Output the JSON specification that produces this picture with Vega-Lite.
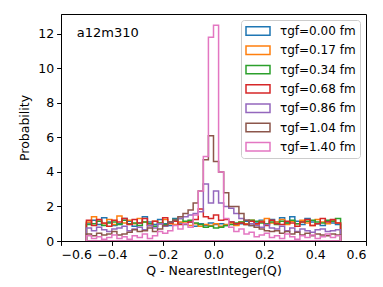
{
  "$schema": "https://vega.github.io/schema/vega-lite/v6.json",
  "width": 305,
  "height": 227,
  "autosize": "none",
  "padding": {"left": 61, "top": 14, "right": 17, "bottom": 46},
  "config": {
    "font": "DejaVu Sans",
    "view": {"stroke": "black", "strokeWidth": 1},
    "axis": {
      "grid": false,
      "domainColor": "black",
      "tickColor": "black",
      "labelColor": "black",
      "titleColor": "black",
      "tickSize": 4.4,
      "tickWidth": 1,
      "labelPadding": 3,
      "labelFontSize": 12.5,
      "titleFontSize": 12.5,
      "titleFontWeight": "normal",
      "labelOverlap": false,
      "zindex": 1
    }
  },
  "encoding": {
    "x": {"field": "x", "type": "quantitative",
      "scale": {"domain": [-0.6, 0.6], "nice": false, "zero": false},
      "axis": {"title": "Q - NearestInteger(Q)", "values": [-0.6, -0.4, -0.2, 0, 0.2, 0.4, 0.6],
        "labelExpr": "replace(format(datum.value, '.1f'), '-', '−')", "titlePadding": 4}},
    "y": {"field": "p", "type": "quantitative", "stack": null,
      "scale": {"domain": [0, 13.15], "nice": false},
      "axis": {"title": "Probability", "values": [0, 2, 4, 6, 8, 10, 12], "format": "d", "titlePadding": 6}}
  },
  "layer": [
    {
      "data": {"values": [
{"s":"0.00","x":-0.5,"p":1.05},{"s":"0.00","x":-0.48,"p":1.2},{"s":"0.00","x":-0.46,"p":0.95},{"s":"0.00","x":-0.44,"p":1.35},{"s":"0.00","x":-0.42,"p":1.1},{"s":"0.00","x":-0.4,"p":0.9},{"s":"0.00","x":-0.38,"p":1.0},{"s":"0.00","x":-0.36,"p":1.3},{"s":"0.00","x":-0.34,"p":1.15},{"s":"0.00","x":-0.32,"p":0.85},
{"s":"0.00","x":-0.3,"p":1.05},{"s":"0.00","x":-0.28,"p":1.4},{"s":"0.00","x":-0.26,"p":1.1},{"s":"0.00","x":-0.24,"p":0.95},{"s":"0.00","x":-0.22,"p":1.25},{"s":"0.00","x":-0.2,"p":1.0},{"s":"0.00","x":-0.18,"p":0.9},{"s":"0.00","x":-0.16,"p":1.3},{"s":"0.00","x":-0.14,"p":1.05},{"s":"0.00","x":-0.12,"p":0.95},
{"s":"0.00","x":-0.1,"p":1.1},{"s":"0.00","x":-0.08,"p":0.85},{"s":"0.00","x":-0.06,"p":1.0},{"s":"0.00","x":-0.04,"p":0.9},{"s":"0.00","x":-0.02,"p":1.05},{"s":"0.00","x":0,"p":0.95},{"s":"0.00","x":0.02,"p":1.0},{"s":"0.00","x":0.04,"p":0.9},{"s":"0.00","x":0.06,"p":1.1},{"s":"0.00","x":0.08,"p":0.95},
{"s":"0.00","x":0.1,"p":1.0},{"s":"0.00","x":0.12,"p":1.15},{"s":"0.00","x":0.14,"p":0.9},{"s":"0.00","x":0.16,"p":1.05},{"s":"0.00","x":0.18,"p":1.2},{"s":"0.00","x":0.2,"p":1.0},{"s":"0.00","x":0.22,"p":1.25},{"s":"0.00","x":0.24,"p":1.1},{"s":"0.00","x":0.26,"p":1.35},{"s":"0.00","x":0.28,"p":1.05},
{"s":"0.00","x":0.3,"p":1.4},{"s":"0.00","x":0.32,"p":1.15},{"s":"0.00","x":0.34,"p":0.95},{"s":"0.00","x":0.36,"p":1.3},{"s":"0.00","x":0.38,"p":1.1},{"s":"0.00","x":0.4,"p":1.0},{"s":"0.00","x":0.42,"p":0.9},{"s":"0.00","x":0.44,"p":1.15},{"s":"0.00","x":0.46,"p":1.05},{"s":"0.00","x":0.48,"p":0.95},{"s":"0.00","x":0.5,"p":0.95},

{"s":"0.17","x":-0.5,"p":1.1},{"s":"0.17","x":-0.48,"p":1.4},{"s":"0.17","x":-0.46,"p":1.15},{"s":"0.17","x":-0.44,"p":1.0},{"s":"0.17","x":-0.42,"p":1.25},{"s":"0.17","x":-0.4,"p":0.95},{"s":"0.17","x":-0.38,"p":1.45},{"s":"0.17","x":-0.36,"p":1.05},{"s":"0.17","x":-0.34,"p":1.2},{"s":"0.17","x":-0.32,"p":1.0},
{"s":"0.17","x":-0.3,"p":1.3},{"s":"0.17","x":-0.28,"p":1.1},{"s":"0.17","x":-0.26,"p":0.9},{"s":"0.17","x":-0.24,"p":1.15},{"s":"0.17","x":-0.22,"p":1.05},{"s":"0.17","x":-0.2,"p":1.25},{"s":"0.17","x":-0.18,"p":1.0},{"s":"0.17","x":-0.16,"p":0.95},{"s":"0.17","x":-0.14,"p":1.1},{"s":"0.17","x":-0.12,"p":1.05},
{"s":"0.17","x":-0.1,"p":0.9},{"s":"0.17","x":-0.08,"p":1.0},{"s":"0.17","x":-0.06,"p":0.85},{"s":"0.17","x":-0.04,"p":0.95},{"s":"0.17","x":-0.02,"p":0.9},{"s":"0.17","x":0,"p":1.0},{"s":"0.17","x":0.02,"p":0.85},{"s":"0.17","x":0.04,"p":0.95},{"s":"0.17","x":0.06,"p":1.05},{"s":"0.17","x":0.08,"p":0.9},
{"s":"0.17","x":0.1,"p":1.1},{"s":"0.17","x":0.12,"p":1.0},{"s":"0.17","x":0.14,"p":1.2},{"s":"0.17","x":0.16,"p":0.95},{"s":"0.17","x":0.18,"p":1.15},{"s":"0.17","x":0.2,"p":1.3},{"s":"0.17","x":0.22,"p":1.05},{"s":"0.17","x":0.24,"p":1.1},{"s":"0.17","x":0.26,"p":1.25},{"s":"0.17","x":0.28,"p":0.95},
{"s":"0.17","x":0.3,"p":1.15},{"s":"0.17","x":0.32,"p":1.0},{"s":"0.17","x":0.34,"p":1.2},{"s":"0.17","x":0.36,"p":1.05},{"s":"0.17","x":0.38,"p":0.9},{"s":"0.17","x":0.4,"p":1.25},{"s":"0.17","x":0.42,"p":1.1},{"s":"0.17","x":0.44,"p":1.0},{"s":"0.17","x":0.46,"p":1.2},{"s":"0.17","x":0.48,"p":1.05},{"s":"0.17","x":0.5,"p":1.05},

{"s":"0.34","x":-0.5,"p":0.95},{"s":"0.34","x":-0.48,"p":1.0},{"s":"0.34","x":-0.46,"p":1.15},{"s":"0.34","x":-0.44,"p":0.9},{"s":"0.34","x":-0.42,"p":1.05},{"s":"0.34","x":-0.4,"p":1.1},{"s":"0.34","x":-0.38,"p":0.95},{"s":"0.34","x":-0.36,"p":1.2},{"s":"0.34","x":-0.34,"p":1.0},{"s":"0.34","x":-0.32,"p":1.05},
{"s":"0.34","x":-0.3,"p":0.9},{"s":"0.34","x":-0.28,"p":1.1},{"s":"0.34","x":-0.26,"p":1.0},{"s":"0.34","x":-0.24,"p":0.85},{"s":"0.34","x":-0.22,"p":1.05},{"s":"0.34","x":-0.2,"p":0.95},{"s":"0.34","x":-0.18,"p":1.1},{"s":"0.34","x":-0.16,"p":1.25},{"s":"0.34","x":-0.14,"p":1.3},{"s":"0.34","x":-0.12,"p":1.15},
{"s":"0.34","x":-0.1,"p":1.2},{"s":"0.34","x":-0.08,"p":1.05},{"s":"0.34","x":-0.06,"p":0.95},{"s":"0.34","x":-0.04,"p":0.8},{"s":"0.34","x":-0.02,"p":0.85},{"s":"0.34","x":0,"p":0.75},{"s":"0.34","x":0.02,"p":0.8},{"s":"0.34","x":0.04,"p":0.9},{"s":"0.34","x":0.06,"p":0.95},{"s":"0.34","x":0.08,"p":1.05},
{"s":"0.34","x":0.1,"p":1.1},{"s":"0.34","x":0.12,"p":0.95},{"s":"0.34","x":0.14,"p":1.2},{"s":"0.34","x":0.16,"p":1.15},{"s":"0.34","x":0.18,"p":1.05},{"s":"0.34","x":0.2,"p":1.0},{"s":"0.34","x":0.22,"p":1.1},{"s":"0.34","x":0.24,"p":0.95},{"s":"0.34","x":0.26,"p":1.15},{"s":"0.34","x":0.28,"p":1.05},
{"s":"0.34","x":0.3,"p":1.2},{"s":"0.34","x":0.32,"p":1.0},{"s":"0.34","x":0.34,"p":1.1},{"s":"0.34","x":0.36,"p":1.15},{"s":"0.34","x":0.38,"p":1.2},{"s":"0.34","x":0.4,"p":1.1},{"s":"0.34","x":0.42,"p":1.05},{"s":"0.34","x":0.44,"p":1.2},{"s":"0.34","x":0.46,"p":1.15},{"s":"0.34","x":0.48,"p":1.3},{"s":"0.34","x":0.5,"p":1.3},

{"s":"0.68","x":-0.5,"p":1.2},{"s":"0.68","x":-0.48,"p":0.9},{"s":"0.68","x":-0.46,"p":1.25},{"s":"0.68","x":-0.44,"p":1.05},{"s":"0.68","x":-0.42,"p":0.85},{"s":"0.68","x":-0.4,"p":1.2},{"s":"0.68","x":-0.38,"p":1.1},{"s":"0.68","x":-0.36,"p":1.3},{"s":"0.68","x":-0.34,"p":0.95},{"s":"0.68","x":-0.32,"p":1.25},
{"s":"0.68","x":-0.3,"p":1.05},{"s":"0.68","x":-0.28,"p":1.3},{"s":"0.68","x":-0.26,"p":0.9},{"s":"0.68","x":-0.24,"p":1.15},{"s":"0.68","x":-0.22,"p":1.0},{"s":"0.68","x":-0.2,"p":1.35},{"s":"0.68","x":-0.18,"p":1.05},{"s":"0.68","x":-0.16,"p":1.15},{"s":"0.68","x":-0.14,"p":0.95},{"s":"0.68","x":-0.12,"p":1.0},
{"s":"0.68","x":-0.1,"p":1.1},{"s":"0.68","x":-0.08,"p":1.25},{"s":"0.68","x":-0.06,"p":1.85},{"s":"0.68","x":-0.04,"p":1.4},{"s":"0.68","x":-0.02,"p":1.3},{"s":"0.68","x":0,"p":1.5},{"s":"0.68","x":0.02,"p":1.2},{"s":"0.68","x":0.04,"p":1.25},{"s":"0.68","x":0.06,"p":1.1},{"s":"0.68","x":0.08,"p":1.0},
{"s":"0.68","x":0.1,"p":1.05},{"s":"0.68","x":0.12,"p":0.95},{"s":"0.68","x":0.14,"p":1.15},{"s":"0.68","x":0.16,"p":1.0},{"s":"0.68","x":0.18,"p":1.1},{"s":"0.68","x":0.2,"p":0.9},{"s":"0.68","x":0.22,"p":1.2},{"s":"0.68","x":0.24,"p":1.0},{"s":"0.68","x":0.26,"p":0.95},{"s":"0.68","x":0.28,"p":1.15},
{"s":"0.68","x":0.3,"p":1.05},{"s":"0.68","x":0.32,"p":0.85},{"s":"0.68","x":0.34,"p":1.1},{"s":"0.68","x":0.36,"p":1.25},{"s":"0.68","x":0.38,"p":0.9},{"s":"0.68","x":0.4,"p":1.0},{"s":"0.68","x":0.42,"p":1.3},{"s":"0.68","x":0.44,"p":1.1},{"s":"0.68","x":0.46,"p":1.25},{"s":"0.68","x":0.48,"p":1.05},{"s":"0.68","x":0.5,"p":1.05},

{"s":"0.86","x":-0.5,"p":0.75},{"s":"0.86","x":-0.48,"p":0.6},{"s":"0.86","x":-0.46,"p":0.8},{"s":"0.86","x":-0.44,"p":0.65},{"s":"0.86","x":-0.42,"p":0.55},{"s":"0.86","x":-0.4,"p":0.7},{"s":"0.86","x":-0.38,"p":0.75},{"s":"0.86","x":-0.36,"p":0.85},{"s":"0.86","x":-0.34,"p":0.6},{"s":"0.86","x":-0.32,"p":0.7},
{"s":"0.86","x":-0.3,"p":0.8},{"s":"0.86","x":-0.28,"p":0.65},{"s":"0.86","x":-0.26,"p":0.9},{"s":"0.86","x":-0.24,"p":0.75},{"s":"0.86","x":-0.22,"p":1.0},{"s":"0.86","x":-0.2,"p":0.85},{"s":"0.86","x":-0.18,"p":1.1},{"s":"0.86","x":-0.16,"p":1.2},{"s":"0.86","x":-0.14,"p":1.3},{"s":"0.86","x":-0.12,"p":1.4},
{"s":"0.86","x":-0.1,"p":1.5},{"s":"0.86","x":-0.08,"p":1.6},{"s":"0.86","x":-0.06,"p":1.7},{"s":"0.86","x":-0.04,"p":3.3},{"s":"0.86","x":-0.02,"p":2.2},{"s":"0.86","x":0,"p":2.9},{"s":"0.86","x":0.02,"p":2.2},{"s":"0.86","x":0.04,"p":2.0},{"s":"0.86","x":0.06,"p":1.9},{"s":"0.86","x":0.08,"p":1.6},
{"s":"0.86","x":0.1,"p":1.3},{"s":"0.86","x":0.12,"p":1.2},{"s":"0.86","x":0.14,"p":1.0},{"s":"0.86","x":0.16,"p":0.9},{"s":"0.86","x":0.18,"p":0.8},{"s":"0.86","x":0.2,"p":0.95},{"s":"0.86","x":0.22,"p":0.75},{"s":"0.86","x":0.24,"p":0.7},{"s":"0.86","x":0.26,"p":0.85},{"s":"0.86","x":0.28,"p":0.6},
{"s":"0.86","x":0.3,"p":0.75},{"s":"0.86","x":0.32,"p":0.55},{"s":"0.86","x":0.34,"p":0.7},{"s":"0.86","x":0.36,"p":0.6},{"s":"0.86","x":0.38,"p":0.5},{"s":"0.86","x":0.4,"p":0.65},{"s":"0.86","x":0.42,"p":0.7},{"s":"0.86","x":0.44,"p":0.55},{"s":"0.86","x":0.46,"p":0.6},{"s":"0.86","x":0.48,"p":0.65},{"s":"0.86","x":0.5,"p":0.65},

{"s":"1.04","x":-0.5,"p":0.4},{"s":"1.04","x":-0.48,"p":0.3},{"s":"1.04","x":-0.46,"p":0.45},{"s":"1.04","x":-0.44,"p":0.35},{"s":"1.04","x":-0.42,"p":0.4},{"s":"1.04","x":-0.4,"p":0.55},{"s":"1.04","x":-0.38,"p":0.35},{"s":"1.04","x":-0.36,"p":0.4},{"s":"1.04","x":-0.34,"p":0.5},{"s":"1.04","x":-0.32,"p":0.65},
{"s":"1.04","x":-0.3,"p":0.55},{"s":"1.04","x":-0.28,"p":0.6},{"s":"1.04","x":-0.26,"p":0.75},{"s":"1.04","x":-0.24,"p":0.55},{"s":"1.04","x":-0.22,"p":0.7},{"s":"1.04","x":-0.2,"p":0.9},{"s":"1.04","x":-0.18,"p":1.1},{"s":"1.04","x":-0.16,"p":1.2},{"s":"1.04","x":-0.14,"p":1.4},{"s":"1.04","x":-0.12,"p":1.6},
{"s":"1.04","x":-0.1,"p":1.8},{"s":"1.04","x":-0.08,"p":2.2},{"s":"1.04","x":-0.06,"p":2.9},{"s":"1.04","x":-0.04,"p":4.7},{"s":"1.04","x":-0.02,"p":6.1},{"s":"1.04","x":0,"p":4.6},{"s":"1.04","x":0.02,"p":4.0},{"s":"1.04","x":0.04,"p":2.8},{"s":"1.04","x":0.06,"p":2.0},{"s":"1.04","x":0.08,"p":2.0},
{"s":"1.04","x":0.1,"p":1.6},{"s":"1.04","x":0.12,"p":1.2},{"s":"1.04","x":0.14,"p":0.9},{"s":"1.04","x":0.16,"p":0.8},{"s":"1.04","x":0.18,"p":0.7},{"s":"1.04","x":0.2,"p":0.6},{"s":"1.04","x":0.22,"p":0.55},{"s":"1.04","x":0.24,"p":0.6},{"s":"1.04","x":0.26,"p":0.45},{"s":"1.04","x":0.28,"p":0.55},
{"s":"1.04","x":0.3,"p":0.4},{"s":"1.04","x":0.32,"p":0.5},{"s":"1.04","x":0.34,"p":0.35},{"s":"1.04","x":0.36,"p":0.45},{"s":"1.04","x":0.38,"p":0.3},{"s":"1.04","x":0.4,"p":0.4},{"s":"1.04","x":0.42,"p":0.35},{"s":"1.04","x":0.44,"p":0.3},{"s":"1.04","x":0.46,"p":0.4},{"s":"1.04","x":0.48,"p":0.35},{"s":"1.04","x":0.5,"p":0.35},

{"s":"1.40","x":-0.5,"p":0.3},{"s":"1.40","x":-0.48,"p":0.15},{"s":"1.40","x":-0.46,"p":0.25},{"s":"1.40","x":-0.44,"p":0.1},{"s":"1.40","x":-0.42,"p":0.2},{"s":"1.40","x":-0.4,"p":0.35},{"s":"1.40","x":-0.38,"p":0.15},{"s":"1.40","x":-0.36,"p":0.25},{"s":"1.40","x":-0.34,"p":0.1},{"s":"1.40","x":-0.32,"p":0.3},
{"s":"1.40","x":-0.3,"p":0.2},{"s":"1.40","x":-0.28,"p":0.4},{"s":"1.40","x":-0.26,"p":0.15},{"s":"1.40","x":-0.24,"p":0.3},{"s":"1.40","x":-0.22,"p":0.55},{"s":"1.40","x":-0.2,"p":0.45},{"s":"1.40","x":-0.18,"p":0.6},{"s":"1.40","x":-0.16,"p":0.9},{"s":"1.40","x":-0.14,"p":0.7},{"s":"1.40","x":-0.12,"p":1.0},
{"s":"1.40","x":-0.1,"p":0.8},{"s":"1.40","x":-0.08,"p":1.5},{"s":"1.40","x":-0.06,"p":2.9},{"s":"1.40","x":-0.04,"p":4.9},{"s":"1.40","x":-0.02,"p":11.8},{"s":"1.40","x":0,"p":12.5},{"s":"1.40","x":0.02,"p":4.0},{"s":"1.40","x":0.04,"p":1.3},{"s":"1.40","x":0.06,"p":0.8},{"s":"1.40","x":0.08,"p":0.55},
{"s":"1.40","x":0.1,"p":0.7},{"s":"1.40","x":0.12,"p":0.4},{"s":"1.40","x":0.14,"p":0.5},{"s":"1.40","x":0.16,"p":0.25},{"s":"1.40","x":0.18,"p":0.35},{"s":"1.40","x":0.2,"p":0.45},{"s":"1.40","x":0.22,"p":0.2},{"s":"1.40","x":0.24,"p":0.3},{"s":"1.40","x":0.26,"p":0.15},{"s":"1.40","x":0.28,"p":0.4},
{"s":"1.40","x":0.3,"p":0.25},{"s":"1.40","x":0.32,"p":0.1},{"s":"1.40","x":0.34,"p":0.3},{"s":"1.40","x":0.36,"p":0.2},{"s":"1.40","x":0.38,"p":0.35},{"s":"1.40","x":0.4,"p":0.15},{"s":"1.40","x":0.42,"p":0.25},{"s":"1.40","x":0.44,"p":0.4},{"s":"1.40","x":0.46,"p":0.2},{"s":"1.40","x":0.48,"p":0.3},{"s":"1.40","x":0.5,"p":0.3}
      ]},
      "mark": {"type": "area", "interpolate": "step-after", "fill": "transparent", "strokeWidth": 1.5, "strokeJoin": "miter", "clip": true},
      "encoding": {
        "stroke": {"field": "s", "type": "nominal",
          "scale": {"domain": ["0.00", "0.17", "0.34", "0.68", "0.86", "1.04", "1.40"],
            "range": ["#1f77b4", "#ff7f0e", "#2ca02c", "#d62728", "#9467bd", "#8c564b", "#e377c2"]},
          "legend": {"title": null, "orient": "top-right", "offset": 6, "padding": 4,
            "fillColor": "rgba(255,255,255,0.8)", "strokeColor": "#cccccc", "cornerRadius": 3,
            "symbolType": "M-1,-0.7L3,-0.7L3,0.7L-1,0.7Z", "symbolSize": 144, "symbolStrokeWidth": 1.5,
            "symbolFillColor": "transparent",
            "labelOffset": 21, "rowPadding": 3.3, "labelFontSize": 12, "labelColor": "black",
            "labelExpr": "'τgf=' + datum.label + ' fm'"}}
      }
    },
    {
      "data": {"values": [{"x": -0.538, "p": 12.06, "t": "a12m310"}]},
      "mark": {"type": "text", "align": "left", "baseline": "middle", "fontSize": 13, "color": "black"},
      "encoding": {
        "text": {"field": "t"}
      }
    }
  ]
}
